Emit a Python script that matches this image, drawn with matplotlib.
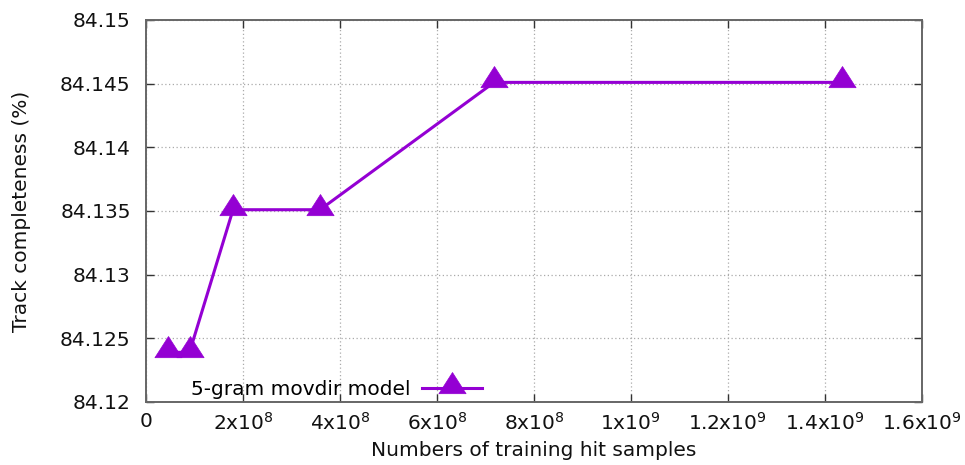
import numpy as np
import matplotlib.pyplot as plt
from matplotlib.path import Path

# training set sizes and resulting track completeness
samples = [4.4875e7, 8.975e7, 1.795e8, 3.59e8, 7.18e8, 1.436e9]
completeness = [84.1239, 84.1239, 84.1351, 84.1351, 84.1451, 84.1451]

xticks = [0, 2e8, 4e8, 6e8, 8e8, 1e9, 1.2e9, 1.4e9, 1.6e9]
xticklabels = ['0', r'2x10$^{8}$', r'4x10$^{8}$', r'6x10$^{8}$', r'8x10$^{8}$',
               r'1x10$^{9}$', r'1.2x10$^{9}$', r'1.4x10$^{9}$', r'1.6x10$^{9}$']
yticks = [84.12, 84.125, 84.13, 84.135, 84.14, 84.145, 84.15]
yticklabels = ['84.12', '84.125', '84.13', '84.135', '84.14', '84.145', '84.15']

purple = '#9400d3'
# gnuplot style triangle: point sits below the middle
tri = Path([(0, 14.7), (-12.5, -4.8), (12.5, -4.8), (0, 14.7)],
           [Path.MOVETO, Path.LINETO, Path.LINETO, Path.CLOSEPOLY])

plt.rcParams['font.family'] = 'DejaVu Sans'
plt.rcParams['mathtext.default'] = 'regular'
fs = 14.5

fig = plt.figure(figsize=(9.65, 4.65), dpi=100)
ax = fig.add_axes([0.1513, 0.1355, 0.8037, 0.8215])

ax.plot(samples, completeness, color=purple, lw=2.2, marker=tri, ms=23,
        mec=purple, mew=0.5, mfc=purple, label='5-gram movdir model')

ax.set_xlim(0, 1.6e9)
ax.set_ylim(84.12, 84.15)
ax.set_xticks(xticks)
ax.set_xticklabels(xticklabels)
ax.set_yticks(yticks)
ax.set_yticklabels(yticklabels)

ax.grid(True, color='#aaaaaa', ls=(0, (1, 2)), lw=0.9)
ax.tick_params(direction='in', length=6, width=1, color='#333333',
               top=True, right=True, labelsize=fs, labelcolor='#111111')
ax.tick_params(axis='x', pad=7)
ax.tick_params(axis='y', pad=11)
for s in ax.spines.values():
    s.set_color('#666666')
    s.set_linewidth(1.4)

ax.set_xlabel('Numbers of training hit samples', fontsize=fs, labelpad=5, color='#111111')
ax.set_ylabel('Track completeness (%)', fontsize=fs, labelpad=21, color='#111111')

ax.legend(loc='lower left', bbox_to_anchor=(0.035, -0.04), frameon=False,
          markerfirst=False, fontsize=fs, handlelength=3.0, handletextpad=0.55)

fig.savefig('out.png', dpi=100)
